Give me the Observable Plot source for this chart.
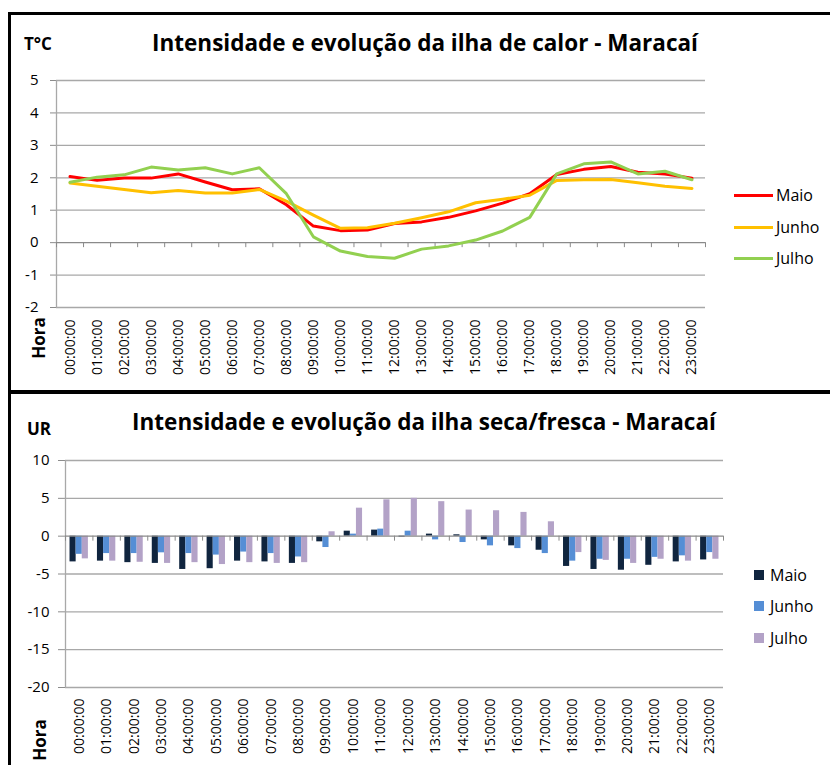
<!DOCTYPE html>
<html><head><meta charset="utf-8">
<script src="https://cdn.jsdelivr.net/npm/d3@7"></script>
<script src="https://cdn.jsdelivr.net/npm/@observablehq/plot@0.6"></script>
<style>
body{margin:0;background:#fff;font-family:"Open Sans",sans-serif;}
#root{position:relative;width:830px;height:765px;overflow:hidden;background:#fff}
.box{position:absolute;border:3px solid #000;box-sizing:border-box}
.abs{position:absolute;white-space:nowrap;color:#000;line-height:1}
.title{font-weight:bold;font-size:22.5px;transform:translateX(-50%)}
.unit{font-weight:bold;font-size:17px}
.hora{font-weight:bold;font-size:17px;transform:translate(-50%,-50%) rotate(-90deg)}
.leg{font-size:16px;display:flex;align-items:center;transform:translateY(-50%)}
svg text{fill:#000}
svg [aria-label^="y-axis"]{color:#8c8c8c}
svg [aria-label^="y-axis"] text{font-size:15px}
svg [aria-label^="x-axis"] text{font-size:14px}
</style></head>
<body>
<div id="root"></div>
<script>
// ---- data ----
const hours = ["00:00:00","01:00:00","02:00:00","03:00:00","04:00:00","05:00:00","06:00:00","07:00:00","08:00:00","09:00:00","10:00:00","11:00:00","12:00:00","13:00:00","14:00:00","15:00:00","16:00:00","17:00:00","18:00:00","19:00:00","20:00:00","21:00:00","22:00:00","23:00:00"];
const months = ["Maio","Junho","Julho"];

// Temperature heat-island intensity (°C)
const tMaio  = [2.04,1.92,1.99,1.99,2.12,1.87,1.63,1.66,1.17,0.51,0.37,0.39,0.59,0.64,0.78,0.98,1.22,1.51,2.10,2.26,2.35,2.17,2.12,1.99];
const tJunho = [1.84,1.74,1.64,1.54,1.61,1.53,1.53,1.64,1.28,0.85,0.44,0.46,0.60,0.77,0.95,1.23,1.34,1.46,1.92,1.94,1.95,1.85,1.74,1.67];
const tJulho = [1.86,2.02,2.09,2.33,2.24,2.31,2.12,2.31,1.51,0.18,-0.26,-0.43,-0.48,-0.20,-0.10,0.08,0.36,0.78,2.12,2.43,2.49,2.12,2.20,1.94];
const tTicks = [-2,-1,0,1,2,3,4,5];

// Relative humidity dry/cool island intensity (UR)
const urMaio  = [-3.4,-3.3,-3.5,-3.6,-4.4,-4.3,-3.3,-3.4,-3.6,-0.75,0.66,0.8,-0.13,0.27,0.18,-0.49,-1.28,-1.86,-4.0,-4.4,-4.5,-3.85,-3.4,-3.14];
const urJunho = [-2.4,-2.3,-2.3,-2.2,-2.3,-2.5,-2.1,-2.3,-2.75,-1.5,0.27,0.93,0.66,-0.49,-0.84,-1.28,-1.64,-2.3,-3.3,-3.05,-3.05,-2.8,-2.6,-2.17];
const urJulho = [-3.0,-3.3,-3.45,-3.6,-3.5,-3.75,-3.5,-3.6,-3.5,0.58,3.7,4.8,5.0,4.56,3.45,3.36,3.14,1.9,-2.17,-3.2,-3.6,-3.05,-3.3,-3.05];
const urTicks = [-20,-15,-10,-5,0,5,10];

const lineColors = ["#ff0000","#ffc000","#92d050"];
const barColors = ["#10253f","#558ed5","#b3a2c7"];

// ---- build tables ----
const idx = d3.range(hours.length);
const bounds = d3.range(hours.length + 1).map(i => i - 0.5);
const tSeries = [tMaio, tJunho, tJulho];
const urSeries = [urMaio, urJunho, urJulho];
const tData = months.flatMap((m, k) => tSeries[k].map((v, i) => ({serie: m, k, i, v})));
const urData = months.flatMap((m, k) => urSeries[k].map((v, i) => ({serie: m, k, i, v})));

const root = document.getElementById("root");
const fmt = d => String(d);
const grid = "#a8a8a8", axisC = "#8a8a8a";

// ---- top chart ----
const topPlot = Plot.plot({
  width: 830, height: 395,
  marginLeft: 56, marginRight: 125, marginTop: 80, marginBottom: 88,
  style: {fontFamily: "'Open Sans', sans-serif", fontSize: "14px", background: "transparent", overflow: "visible"},
  x: {type: "linear", domain: [-0.5, 23.5], ticks: idx, tickFormat: i => hours[i], tickRotate: -90, tickSize: 0, tickPadding: 12, label: null},
  y: {domain: [-2, 5], ticks: tTicks, tickSize: 6, tickPadding: 12, label: null, tickFormat: fmt},
  color: {domain: months, range: lineColors},
  marks: [
    Plot.ruleY(tTicks.filter(d => d !== 0), {stroke: grid, strokeWidth: 1.3}),
    Plot.ruleX([-0.5], {stroke: grid, strokeWidth: 1.3}),
    Plot.ruleY([0], {stroke: axisC, strokeWidth: 1.3}),
    Plot.ruleX(bounds, {x: d => d, y1: () => 0, y2: () => 0, insetBottom: -5, stroke: axisC}),
    Plot.line(tData, {x: "i", y: "v", z: "serie", stroke: "serie", strokeWidth: 3, strokeLinejoin: "round"})
  ]
});
topPlot.style.position = "absolute"; topPlot.style.left = "0px"; topPlot.style.top = "0px";
root.appendChild(topPlot);

// ---- bottom chart ----
const G = 0.67; // group width (fraction of a category)
const botPlot = Plot.plot({
  width: 830, height: 370,
  marginLeft: 65, marginRight: 107, marginTop: 65, marginBottom: 78,
  style: {fontFamily: "'Open Sans', sans-serif", fontSize: "14px", background: "transparent", overflow: "visible"},
  x: {type: "linear", domain: [-0.5, 23.5], ticks: idx, tickFormat: i => hours[i], tickRotate: -90, tickSize: 0, tickPadding: 11, label: null},
  y: {domain: [-20, 10], ticks: urTicks, tickSize: 7, tickPadding: 9, label: null, tickFormat: fmt},
  color: {domain: months, range: barColors},
  marks: [
    Plot.ruleY(urTicks.filter(d => d !== 0), {stroke: grid, strokeWidth: 1.3}),
    Plot.ruleX([-0.5], {stroke: grid, strokeWidth: 1.3}),
    Plot.rectY(urData, {
      x1: d => d.i - G / 2 + d.k * G / 3,
      x2: d => d.i - G / 2 + (d.k + 1) * G / 3,
      y1: () => 0, y2: "v", fill: "serie"
    }),
    Plot.ruleY([0], {stroke: axisC, strokeWidth: 1.3}),
    Plot.ruleX(bounds, {x: d => d, y1: () => 0, y2: () => 0, insetBottom: -5, stroke: axisC})
  ]
});
botPlot.style.position = "absolute"; botPlot.style.left = "0px"; botPlot.style.top = "395px";
root.appendChild(botPlot);

// ---- frames ----
function addDiv(cls, css, text) {
  const d = document.createElement("div");
  d.className = cls; d.style.cssText = css;
  if (text != null) d.textContent = text;
  root.appendChild(d);
  return d;
}
addDiv("box", "left:8px;top:12px;width:900px;height:381px;");
addDiv("box", "left:8px;top:391px;width:900px;height:500px;");

// ---- texts ----
addDiv("abs title", "left:425px;top:32px;", "Intensidade e evolução da ilha de calor - Maracaí");
addDiv("abs unit", "left:24px;top:35px;", "T°C");
addDiv("abs hora", "left:38px;top:338px;", "Hora");
addDiv("abs title", "left:424px;top:411px;", "Intensidade e evolução da ilha seca/fresca - Maracaí");
addDiv("abs unit", "left:27px;top:420px;", "UR");
addDiv("abs hora", "left:39px;top:740px;", "Hora");

// ---- legends ----
const topLegY = [195, 227, 258];
months.forEach((m, k) => {
  const d = addDiv("abs leg", `left:734px;top:${topLegY[k]}px;`);
  const sw = document.createElement("span");
  sw.style.cssText = `display:inline-block;width:39px;height:3px;background:${lineColors[k]};margin-right:3px;`;
  d.appendChild(sw);
  d.appendChild(document.createTextNode(m));
});
const botLegY = [575, 606, 638];
months.forEach((m, k) => {
  const d = addDiv("abs leg", `left:754px;top:${botLegY[k]}px;`);
  const sw = document.createElement("span");
  sw.style.cssText = `display:inline-block;width:10px;height:10px;background:${barColors[k]};margin-right:6px;`;
  d.appendChild(sw);
  d.appendChild(document.createTextNode(m));
});
</script>
</body></html>
